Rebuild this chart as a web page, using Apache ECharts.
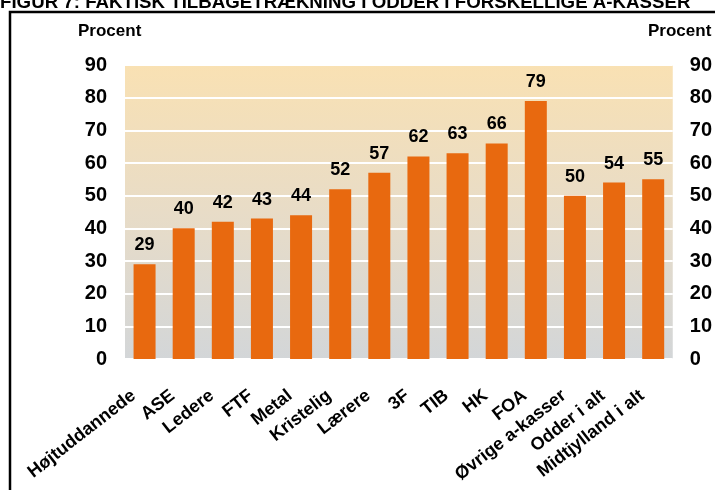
<!DOCTYPE html>
<html><head><meta charset="utf-8">
<script src="https://cdn.jsdelivr.net/npm/echarts@6/dist/echarts.min.js"></script>
<style>html,body{margin:0;padding:0;background:#fff}#c{width:715px;height:490px}</style>
</head><body><div id="c"></div>
<script>
var categories = ['Højtuddannede','ASE','Ledere','FTF','Metal','Kristelig','Lærere','3F','TIB','HK','FOA','Øvrige a-kasser','Odder i alt','Midtjylland i alt'];
var values = [29,40,42,43,44,52,57,62,63,66,79,50,54,55];
var yTicks = [0,10,20,30,40,50,60,70,80,90];
var titleText = 'FIGUR 7: FAKTISK TILBAGETRÆKNING I ODDER I FORSKELLIGE A-KASSER';
var unitText = 'Procent';

var chart = echarts.init(document.getElementById('c'));
var font = 'Arial, "Liberation Sans", sans-serif';
var yAxisBase = {
  type:'value', min:yTicks[0], max:yTicks[yTicks.length-1], interval:10,
  axisLine:{show:false}, axisTick:{show:false},
  splitLine:{show:true, lineStyle:{color:'#ffffff', width:2}},
  axisLabel:{color:'#000', fontSize:20, fontWeight:'bold', fontFamily:font, margin:18}
};
chart.setOption({
  animation:false,
  backgroundColor:'#fff',
  grid:{left:125, right:38, top:65, bottom:131, show:true, borderWidth:0,
    backgroundColor:new echarts.graphic.LinearGradient(0,0,0,1,[
      {offset:0,color:'#f9e1b3'},{offset:0.5,color:'#e8dcc7'},{offset:1,color:'#d3d6d8'}])},
  xAxis:{type:'category', data:categories,
    axisLine:{show:false}, axisTick:{show:false},
    axisLabel:{rotate:38, interval:0, color:'#000', fontSize:18, fontWeight:'bold', fontFamily:font, margin:26, padding:[0,14,0,0]}},
  yAxis:[
    Object.assign({}, yAxisBase, {position:'left'}),
    Object.assign({}, yAxisBase, {position:'right', splitLine:{show:false}, axisLabel:Object.assign({}, yAxisBase.axisLabel, {margin:17})})
  ],
  graphic:[
    {type:'rect', shape:{x:10, y:12, width:720, height:490}, style:{fill:'none', stroke:'#000', lineWidth:2.5}, z:100},
    {type:'text', x:0, y:12, style:{text:titleText, fill:'#000', font:'bold 18.7px '+font, verticalAlign:'bottom'}},
    {type:'text', left:78, top:23, style:{text:unitText, fill:'#000', font:'bold 17px '+font}},
    {type:'text', left:648, top:23, style:{text:unitText, fill:'#000', font:'bold 17px '+font}}
  ],
  series:[{type:'bar', data:values, barWidth:22, yAxisIndex:0,
    itemStyle:{color:'#e8690f'},
    label:{show:true, position:'top', distance:10, color:'#000', fontSize:18, fontWeight:'bold', fontFamily:font}}]
});
</script></body></html>
